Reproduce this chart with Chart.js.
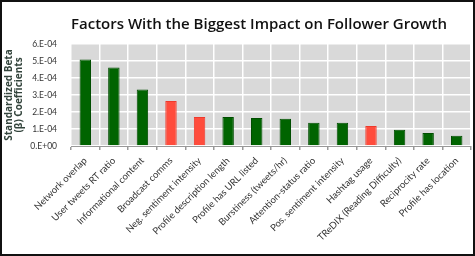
<!DOCTYPE html>
<html>
<head>
<meta charset="utf-8">
<script src="https://cdn.jsdelivr.net/npm/chart.js@4/dist/chart.umd.min.js"></script>
<style>
  html, body { margin: 0; padding: 0; background: #fff; }
  #wrap { width: 475px; height: 256px; position: relative; }
</style>
</head>
<body>
<div id="wrap"><canvas id="chart" width="475" height="256"></canvas></div>
<script>
// データ
const factors = [
  "Network overlap",
  "User tweets RT ratio",
  "Informational content",
  "Broadcast comms",
  "Neg. sentiment intensity",
  "Profile description length",
  "Profile has URL listed",
  "Burstiness (tweets/hr)",
  "Attention-status ratio",
  "Pos. sentiment intensity",
  "Hashtag usage",
  "TReDIX (Reading Difficulty)",
  "Reciprocity rate",
  "Profile has location",
];
const betaValues = [
  5.09e-4, 4.62e-4, 3.33e-4, 2.65e-4, 1.71e-4, 1.71e-4, 1.65e-4,
  1.6e-4, 1.37e-4, 1.37e-4, 1.18e-4, 0.96e-4, 0.77e-4, 0.6e-4,
];
// 負の影響かどうか
const isNegative = [
  false, false, false, true, true, false, false,
  false, false, false, true, false, false, false,
];
const yTicks = [0, 1e-4, 2e-4, 3e-4, 4e-4, 5e-4, 6e-4];

const titleText = "Factors With the Biggest Impact on Follower Growth";

// 6.E-04 形式
function fmtExp(v) {
  if (v === 0) return "0.E+00";
  const e = Math.floor(Math.log10(Math.abs(v)) + 1e-9);
  const m = Math.round(v / Math.pow(10, e));
  const sign = e < 0 ? "-" : "+";
  return m + ".E" + sign + String(Math.abs(e)).padStart(2, "0");
}

// プロット背景・枠・タイトル
const decor = {
  id: "decor",
  beforeDraw(chart) {
    const { ctx, chartArea: a } = chart;
    ctx.save();
    ctx.fillStyle = "#fff";
    ctx.fillRect(0, 0, chart.width, chart.height);
    ctx.fillStyle = "#d9d9d9";
    ctx.fillRect(a.left, a.top, a.right - a.left, a.bottom - a.top);
    ctx.restore();
  },
  afterDraw(chart) {
    const { ctx } = chart;
    ctx.save();
    ctx.fillStyle = "#111";
    ctx.font = "600 15px 'Open Sans'";
    ctx.textAlign = "center";
    ctx.textBaseline = "alphabetic";
    ctx.fillText(titleText, 259, 29);
    ctx.strokeStyle = "#111";
    ctx.lineWidth = 2;
    ctx.strokeRect(1, 1, chart.width - 2, chart.height - 2);
    ctx.restore();
  },
};

const ctx = document.getElementById("chart").getContext("2d");
new Chart(ctx, {
  type: "bar",
  data: {
    labels: factors,
    datasets: [
      {
        data: betaValues,
        backgroundColor: isNegative.map((n) => (n ? "#ff4c3c" : "#006400")),
        borderColor: isNegative.map((n) => (n ? "#ee3a2c" : "#004d00")),
        borderWidth: 1,
        barPercentage: 0.4,
        categoryPercentage: 1,
      },
    ],
  },
  options: {
    responsive: false,
    animation: false,
    devicePixelRatio: 1,
    layout: { padding: { top: 44, left: 4, right: 4, bottom: 2 } },
    plugins: {
      legend: { display: false },
      title: { display: false },
      tooltip: { enabled: false },
    },
    scales: {
      x: {
        afterFit: (s) => { s.height = 108; },
        grid: {
          color: "#ffffff",
          lineWidth: 1.5,
          offset: true,
          tickColor: "#999",
          tickLength: 4,
          drawTicks: true,
        },
        border: { color: "#999", width: 1 },
        ticks: {
          color: "#333",
          font: { family: "Lato", size: 9.5 },
          maxRotation: 45,
          minRotation: 45,
          autoSkip: false,
          padding: 5,
        },
      },
      y: {
        min: 0,
        max: 6e-4,
        afterFit: (s) => { s.width = 67; },
        afterBuildTicks: (s) => { s.ticks = yTicks.map((v) => ({ value: v })); },
        grid: { color: "#ffffff", lineWidth: 1.5, drawTicks: false },
        border: { display: false },
        ticks: {
          color: "#333",
          font: { family: "Lato", size: 8.5 },
          padding: 14,
          callback: (v) => fmtExp(v),
        },
        title: {
          display: true,
          text: ["Standardized Beta", "(β) Coefficients"],
          color: "#33443c",
          font: { family: "Open Sans", size: 10, weight: "bold", lineHeight: 1.0 },
          padding: { top: 0, bottom: 0 },
        },
      },
    },
  },
  plugins: [decor],
});
</script>
</body>
</html>
